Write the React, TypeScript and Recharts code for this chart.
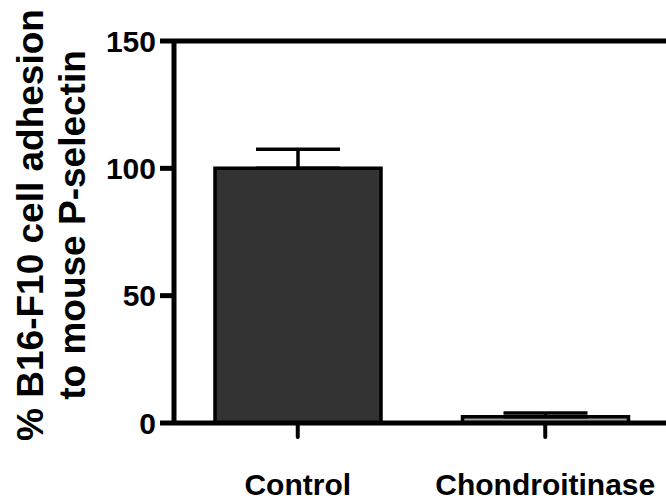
import React from 'react';
import { BarChart, Bar, XAxis, YAxis, ErrorBar, Cell, ReferenceLine, Label } from 'recharts';

// Adhesion of B16-F10 cells to mouse P-selectin, % of control (mean ± SEM)
const categories = ['Control', 'Chondroitinase'];
const adhesion = [100, 2.5];
const sem = [7.5, 1.4];
const barFills = ['#333333', '#a0a0a0'];
const yTicks = [0, 50, 100, 150];

const data = categories.map((name, i) => ({
  name,
  value: adhesion[i],
  // upward-only error whisker
  err: [0, sem[i]],
}));

const FONT = '"Liberation Sans", Arial, Helvetica, sans-serif';

const renderYLabel = () => (
  <g fontFamily={FONT} fontWeight="bold" fontSize={37} fill="#000">
    <text transform="translate(43,225) rotate(-90)" textAnchor="middle">
      % B16-F10 cell adhesion
    </text>
    <text transform="translate(85,225) rotate(-90)" textAnchor="middle">
      to mouse P-selectin
    </text>
  </g>
);

export default function App() {
  return (
    <div
      style={{
        position: 'absolute',
        left: 0,
        top: 0,
        width: 666,
        height: 504,
        overflow: 'hidden',
        background: '#fff',
      }}
    >
      <BarChart
        width={669}
        height={504}
        data={data}
        margin={{ top: 41, right: 0, bottom: 0, left: 0 }}
      >
        <XAxis
          dataKey="name"
          height={81}
          axisLine={{ stroke: '#000', strokeWidth: 5 }}
          tickLine={{ stroke: '#000', strokeWidth: 4, strokeLinecap: 'round' }}
          tickSize={14}
          tickMargin={37}
          tick={{ fill: '#000', fontSize: 30, fontWeight: 'bold', fontFamily: FONT }}
        />
        <YAxis
          width={174}
          domain={[0, 150]}
          ticks={yTicks}
          interval={0}
          axisLine={{ stroke: '#000', strokeWidth: 5 }}
          tickLine={{ stroke: '#000', strokeWidth: 5 }}
          tickSize={14}
          tickMargin={4}
          tick={{ fill: '#000', fontSize: 30, fontWeight: 'bold', fontFamily: FONT }}
        >
          <Label content={renderYLabel} />
        </YAxis>
        <ReferenceLine y={150} stroke="#000" strokeWidth={5} ifOverflow="visible" />
        <Bar
          dataKey="value"
          barSize={166}
          stroke="#000"
          strokeWidth={3.5}
          isAnimationActive={false}
        >
          {data.map((d, i) => (
            <Cell key={d.name} fill={barFills[i]} />
          ))}
          <ErrorBar
            dataKey="err"
            width={42}
            stroke="#000"
            strokeWidth={3.5}
            direction="y"
            isAnimationActive={false}
          />
        </Bar>
      </BarChart>
    </div>
  );
}
